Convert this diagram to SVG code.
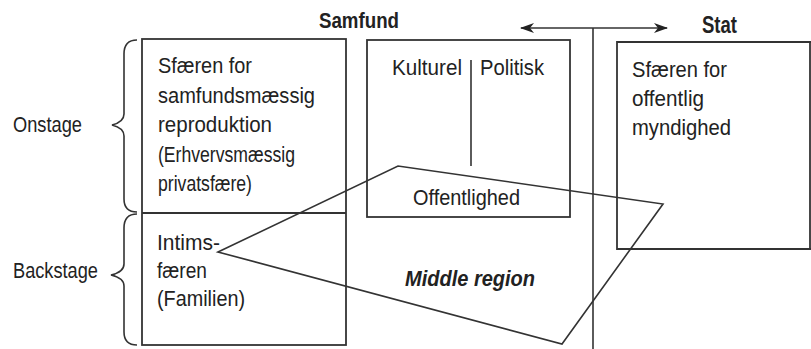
<svg xmlns="http://www.w3.org/2000/svg" width="811" height="349" viewBox="0 0 811 349">
<style>
.t{font-family:"Liberation Sans",Arial,sans-serif;font-size:21.5px;fill:#222;}
.b{font-weight:bold;font-size:22px;}
.bi{font-weight:bold;font-style:italic;font-size:22px;}
.box{fill:none;stroke:#333;stroke-width:1.8;}
.ln{fill:none;stroke:#333;stroke-width:1.6;}
</style>
<defs>
<marker id="ah" viewBox="0 0 14 10" refX="13" refY="5" markerWidth="14" markerHeight="10" markerUnits="userSpaceOnUse" orient="auto-start-reverse">
<path d="M0,0 L14,5 L0,10 L4,5 Z" fill="#222"/>
</marker>
</defs>
<rect width="811" height="349" fill="#fff"/>

<g id="title-samfund"><text class="t b" x="319" y="28" textLength="80" lengthAdjust="spacingAndGlyphs">Samfund</text></g>
<g id="title-stat"><text class="t b" x="702" y="33" textLength="35" lengthAdjust="spacingAndGlyphs" style="font-size:23px">Stat</text></g>

<g id="onstage">
<path class="ln" d="M137,40 Q124,40 124,54 L124,114 Q124,122 112,125 Q124,128 124,136 L124,199 Q124,212 137,212"/>
<text class="t" x="13" y="132" textLength="69" lengthAdjust="spacingAndGlyphs">Onstage</text>
</g>
<g id="backstage">
<path class="ln" d="M137,214 Q124,214 124,228 L124,264 Q124,272 111,275 Q124,278 124,286 L124,332 Q124,345 137,345"/>
<text class="t" x="13" y="278" textLength="85" lengthAdjust="spacingAndGlyphs">Backstage</text>
</g>

<g id="privat">
<rect class="box" x="142" y="39" width="204" height="306"/>
<line class="box" x1="142" y1="213" x2="346" y2="213"/>
<text class="t" x="158" y="73" textLength="94" lengthAdjust="spacingAndGlyphs">Sfæren for</text>
<text class="t" x="158" y="103" textLength="157" lengthAdjust="spacingAndGlyphs">samfundsmæssig</text>
<text class="t" x="158" y="132" textLength="114" lengthAdjust="spacingAndGlyphs">reproduktion</text>
<text class="t" x="158" y="162" textLength="137" lengthAdjust="spacingAndGlyphs">(Erhvervsmæssig</text>
<text class="t" x="158" y="191" textLength="94" lengthAdjust="spacingAndGlyphs">privatsfære)</text>
</g>

<g id="intimsfaeren">
<text class="t" x="157" y="250" textLength="63" lengthAdjust="spacingAndGlyphs">Intims-</text>
<text class="t" x="157" y="278" textLength="50" lengthAdjust="spacingAndGlyphs">færen</text>
<text class="t" x="157" y="306" textLength="88" lengthAdjust="spacingAndGlyphs">(Familien)</text>
</g>

<g id="offentlighed">
<rect class="box" x="367" y="40" width="203" height="177"/>
<line class="ln" x1="471" y1="60" x2="471" y2="166"/>
<text class="t" x="392" y="75" textLength="70" lengthAdjust="spacingAndGlyphs">Kulturel</text>
<text class="t" x="480" y="75" textLength="64" lengthAdjust="spacingAndGlyphs">Politisk</text>
<text class="t" x="413" y="205" textLength="107" lengthAdjust="spacingAndGlyphs">Offentlighed</text>
</g>

<g id="stat">
<path class="box" d="M811,42 L617,42 L617,249 L811,249"/>
<line class="box" x1="810" y1="42" x2="810" y2="249"/>
<text class="t" x="632" y="77" textLength="95" lengthAdjust="spacingAndGlyphs">Sfæren for</text>
<text class="t" x="632" y="106" textLength="72" lengthAdjust="spacingAndGlyphs">offentlig</text>
<text class="t" x="632" y="135" textLength="99" lengthAdjust="spacingAndGlyphs">myndighed</text>
</g>

<g id="middle-region">
<polygon class="ln" points="218,252 398,166 663,204 562,344"/>
<text class="t bi" x="405" y="286" textLength="130" lengthAdjust="spacingAndGlyphs">Middle region</text>
</g>

<g id="connectors">
<line class="ln" x1="593" y1="28" x2="593" y2="349"/>
<line class="ln" x1="521" y1="28" x2="667" y2="28" marker-start="url(#ah)" marker-end="url(#ah)"/>
</g>
</svg>
